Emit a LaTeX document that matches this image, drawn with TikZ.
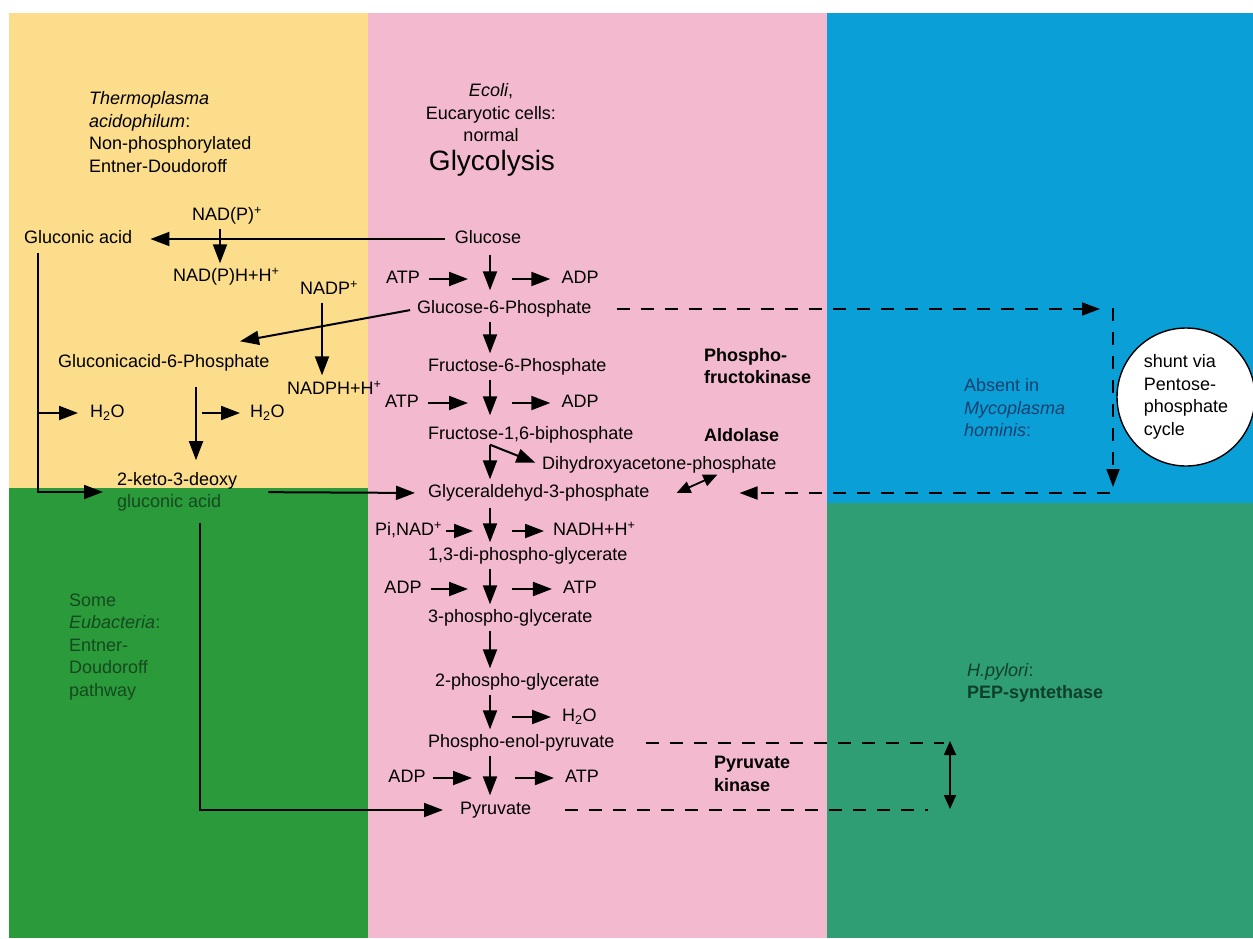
\documentclass[tikz,border=0pt]{standalone}
\usepackage{fontspec}
\setmainfont{Liberation Sans}
\usetikzlibrary{arrows.meta}

\definecolor{yellowbg}{HTML}{FBDD8C}
\definecolor{pinkbg}{HTML}{F3B9CF}
\definecolor{bluebg}{HTML}{0AA0D7}
\definecolor{greenbg}{HTML}{2B9A3B}
\definecolor{tealbg}{HTML}{2F9E74}
\definecolor{greenink}{HTML}{15491F}
\definecolor{blueink}{HTML}{18406E}
\definecolor{tealink}{HTML}{0F3F2C}

\tikzset{
  txt/.style={font=\fontsize{18}{21}\selectfont, inner sep=1pt, text height=13pt, text depth=4pt},
  note/.style={font=\fontsize{18}{22.5}\selectfont, inner sep=1pt, align=left, anchor=west},
  enz/.style={note, font=\fontsize{18}{22.5}\selectfont\bfseries},
  arr/.style={-{Triangle[length=19pt,width=14pt]}, line width=2pt, shorten <=3pt, shorten >=4pt},
  sidein/.style={arr, shorten <=8pt, shorten >=22pt},
  sideout/.style={arr, shorten <=22pt, shorten >=10pt},
  dblarr/.style={{Triangle[length=14pt,width=12pt]}-{Triangle[length=14pt,width=12pt]}, line width=1.8pt},
  dashln/.style={dash pattern=on 13pt off 11pt, line width=1.8pt},
  dasharr/.style={dashln, -{Triangle[length=18pt,width=13pt]}}
}

\begin{document}
\begin{tikzpicture}[x=1pt, y=-1pt]

  \useasboundingbox (0,0) rectangle (1253,938);
  \fill[white] (0,0) rectangle (1253,938);
  \fill[yellowbg] (9,13) rectangle (368,488);
  \fill[greenbg] (9,488) rectangle (368,938);
  \fill[pinkbg] (368,13) rectangle (827,938);
  \fill[bluebg] (827,13) rectangle (1253,503);
  \fill[tealbg] (827,503) rectangle (1253,938);

  \coordinate (ax) at (490,0);

  \node[note] (thermo) at (88,132) {\textit{Thermoplasma}\\\textit{acidophilum}:\\Non-phosphorylated\\Entner-Doudoroff};
  \node[note, anchor=center, align=center] (ecoli) at (491,113) {\textit{Ecoli},\\Eucaryotic cells:\\normal};
  \node[font=\fontsize{28}{31}\selectfont, inner sep=1pt] (glyco) at (492,163) {Glycolysis};
  \node[note, text=greenink] (eubac) at (68,647) {Some\\\textit{Eubacteria}:\\Entner-\\Doudoroff\\pathway};
  \node[note, text=blueink] (absent) at (963,408) {Absent in\\\textit{Mycoplasma}\\\textit{hominis}:};
  \node[note, text=tealink] (hpyl) at (966,683) {\textit{H.pylori}:\\\textbf{PEP-syntethase}};

  \node[txt] (glc) at (488,239) {Glucose};
  \node[txt, anchor=west] (g6p) at (416,309) {Glucose-6-Phosphate};
  \node[txt, anchor=west] (f6p) at (427,367) {Fructose-6-Phosphate};
  \node[txt, anchor=west] (f16bp) at (427,435) {Fructose-1,6-biphosphate};
  \node[txt, anchor=west] (dhap) at (541,465) {Dihydroxyacetone-phosphate};
  \node[txt, anchor=west] (gap) at (427,493) {Glyceraldehyd-3-phosphate};
  \node[txt, anchor=west] (bpg) at (427,556) {1,3-di-phospho-glycerate};
  \node[txt, anchor=west] (pg3) at (427,618) {3-phospho-glycerate};
  \node[txt, anchor=west] (pg2) at (434,682) {2-phospho-glycerate};
  \node[txt, anchor=west] (pep) at (427,743) {Phospho-enol-pyruvate};
  \node[txt, anchor=west] (pyr) at (459,810) {Pyruvate};

  \node[txt] (atp1) at (403,279) {ATP};
  \node[txt] (adp1) at (580,279) {ADP};
  \node[txt] (atp2) at (402,403) {ATP};
  \node[txt] (adp2) at (580,403) {ADP};
  \node[txt, anchor=west] (pinad) at (374,531) {Pi,NAD\textsuperscript{+}};
  \node[txt, anchor=west] (nadh) at (552,531) {NADH+H\textsuperscript{+}};
  \node[txt] (adp3) at (403,589) {ADP};
  \node[txt] (atp3) at (580,589) {ATP};
  \node[txt, anchor=west] (h2oC) at (561,717) {H\textsubscript{2}O};
  \node[txt] (adp4) at (407,778) {ADP};
  \node[txt] (atp4) at (582,778) {ATP};

  \node[enz] (pfk) at (703,366) {Phospho-\\fructokinase};
  \node[enz] (aldo) at (703,435) {Aldolase};
  \node[enz] (pk) at (713,774) {Pyruvate\\kinase};

  \node[txt, anchor=west] (gluconic) at (23,239) {Gluconic acid};
  \node[txt, anchor=west] (nadp1) at (191,216) {NAD(P)\textsuperscript{+}};
  \node[txt, anchor=west] (nadph1) at (172,277) {NAD(P)H+H\textsuperscript{+}};
  \node[txt, anchor=west] (nadp2) at (299,290) {NADP\textsuperscript{+}};
  \node[txt, anchor=west] (nadph2) at (286,390) {NADPH+H\textsuperscript{+}};
  \node[txt, anchor=west] (glc6pa) at (57,363) {Gluconicacid-6-Phosphate};
  \node[txt, anchor=west] (h2oA) at (89,413) {H\textsubscript{2}O};
  \node[txt, anchor=west] (h2oB) at (249,413) {H\textsubscript{2}O};
  \node[note] (kdg) at (116,492) {2-keto-3-deoxy\\\textcolor{greenink}{gluconic acid}};

  \draw[arr, shorten <=6pt, shorten >=9pt] (glc.south -| ax) -- (g6p.north -| ax);
  \draw[arr] (g6p.south -| ax) -- (f6p.north -| ax);
  \draw[arr, shorten >=10pt] (f6p.south -| ax) -- (f16bp.north -| ax);
  \draw[arr, shorten <=0pt] (f16bp.south -| ax) -- (gap.north -| ax);
  \draw[arr, shorten <=5pt] (gap.south -| ax) -- (bpg.north -| ax);
  \draw[arr] (bpg.south -| ax) -- (pg3.north -| ax);
  \draw[arr] (pg3.south -| ax) -- (pg2.north -| ax);
  \draw[arr] (pg2.south -| ax) -- (pep.north -| ax);
  \draw[arr, shorten >=5pt] (pep.south -| ax) -- (pyr.north -| ax);

  \draw[sidein] (atp1) -- (atp1 -| ax);
  \draw[sideout] (adp1 -| ax) -- (adp1);
  \draw[sidein] (atp2) -- (atp2 -| ax);
  \draw[sideout] (adp2 -| ax) -- (adp2);
  \draw[sidein, shorten <=3pt, shorten >=17pt] (pinad) -- (pinad -| ax);
  \draw[sideout, shorten >=8pt] (nadh -| ax) -- (nadh);
  \draw[sidein] (adp3) -- (adp3 -| ax);
  \draw[sideout] (atp3 -| ax) -- (atp3);
  \draw[sideout] (h2oC -| ax) -- (h2oC);
  \draw[sidein, shorten <=6pt, shorten >=18pt] (adp4) -- (adp4 -| ax);
  \draw[sideout, shorten <=25pt] (atp4 -| ax) -- (atp4);

  \draw[arr, shorten <=0pt, shorten >=6pt] (f16bp.south -| ax) -- (dhap.west);
  \draw[dblarr] ([xshift=26pt]gap.east) -- ([xshift=58pt]dhap.south);

  \draw[arr, shorten <=9pt, shorten >=17pt] (glc) -- (gluconic);
  \draw[arr] ([xshift=29pt]nadp1.south west) -- ([xshift=29pt]nadp1.south west |- nadph1.north);
  \draw[arr, shorten >=5pt] ([xshift=23pt]nadp2.south west) -- ([xshift=23pt]nadp2.south west |- nadph2.north);
  \draw[arr, shorten <=6pt, shorten >=0pt] (g6p.west) -- ([xshift=183pt, yshift=12pt]glc6pa.north west);

  \coordinate (glx) at ([xshift=15pt]gluconic.south west);
  \draw[arr, shorten <=4pt, shorten >=13pt] (glx) |- (kdg.west);
  \draw[arr, shorten <=0pt, shorten >=11pt] (glx |- h2oA) -- (h2oA.west);
  \draw[arr, shorten <=14pt, shorten >=11pt] ([xshift=139pt]glc6pa.south west) -- ([xshift=139pt]glc6pa.south west |- kdg.north);
  \draw[arr, shorten <=6pt, shorten >=9pt] ([xshift=139pt]glc6pa.south west |- h2oB) -- (h2oB.west);
  \draw[arr, shorten <=30pt, shorten >=12pt] (kdg.east) -- (gap.west);
  \draw[arr, shorten <=10pt, shorten >=16pt] ([xshift=84pt]kdg.south west) |- (pyr.west);

  \coordinate (ppne) at (1113,308);
  \coordinate (ppse) at (1113,493);
  \draw[dasharr, shorten <=24pt, shorten >=13pt] (g6p.east) -- (g6p.east -| ppne);
  \draw[dasharr, shorten >=6pt] (ppne) -- (ppse);
  \draw[dasharr, shorten <=3pt, shorten >=89pt] (ppse) -- (gap.east);

  \coordinate (pepend) at (950,741);
  \coordinate (pyrend) at (950,809);
  \draw[dashln, shorten <=30pt, shorten >=6pt] (pep.east) -- (pep.east -| pepend);
  \draw[dashln, shorten <=33pt, shorten >=22pt] (pyr.east) -- (pyr.east -| pyrend);
  \draw[dblarr] (pepend) -- (pyrend);

  \node[circle, draw, line width=1.4pt, fill=white, minimum size=138pt, align=left, font=\fontsize{18}{22.5}\selectfont] (shunt) at (1186,397) {shunt via\\Pentose-\\phosphate\\cycle};

\end{tikzpicture}
\end{document}
